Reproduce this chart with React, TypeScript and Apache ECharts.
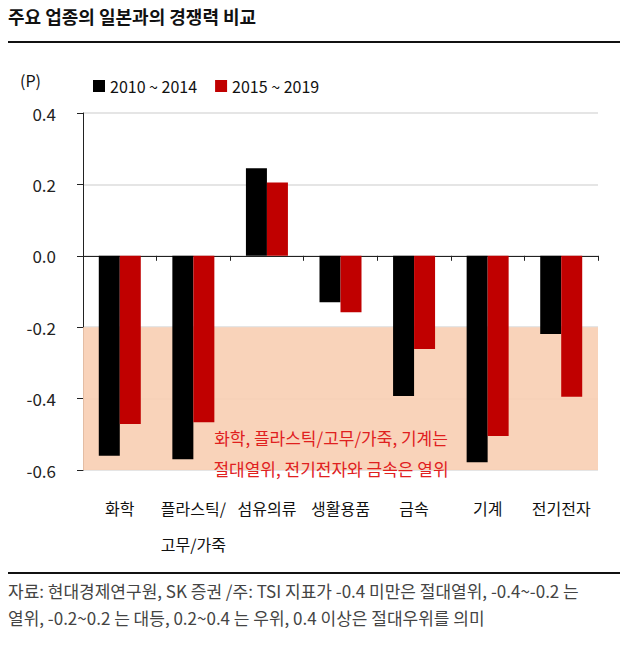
import React, { useEffect, useRef } from "react";
import * as echarts from "echarts";

const categories = ["화학", "플라스틱/\n고무/가죽", "섬유의류", "생활용품", "금속", "기계", "전기전자"];
const series2010 = [-0.56, -0.57, 0.245, -0.13, -0.393, -0.578, -0.219];
const series2015 = [-0.471, -0.466, 0.205, -0.158, -0.261, -0.505, -0.395];
const seriesNames = ["2010 ~ 2014", "2015 ~ 2019"];
const shadeRange = [-0.2, -0.6];

const FONT = "'Noto Sans CJK KR', 'Noto Sans', sans-serif";

export default function App() {
  const ref = useRef<HTMLDivElement>(null);
  useEffect(() => {
    if (!ref.current) return;
    const chart = echarts.init(ref.current, null, { renderer: "svg" });
    chart.setOption({
      animation: false,
      backgroundColor: "#ffffff",
      textStyle: { fontFamily: FONT },
      grid: { left: 83, right: 32, top: 113, bottom: 175 },
      legend: {
        left: 88,
        top: 73,
        itemWidth: 12,
        itemHeight: 12,
        itemGap: 18,
        icon: "rect",
        textStyle: { fontSize: 16, color: "#111", fontFamily: FONT },
        data: seriesNames,
      },
      xAxis: [
        {
          type: "category",
          data: categories,
          axisLine: { onZero: true, lineStyle: { color: "#222", width: 1 } },
          axisTick: { show: true, length: 5, inside: false, lineStyle: { color: "#222" } },
          axisLabel: { show: false },
        },
        {
          type: "category",
          data: categories,
          position: "bottom",
          axisLine: { show: false, onZero: false },
          axisTick: { show: false },
          axisLabel: {
            interval: 0,
            margin: 20,
            fontSize: 16,
            color: "#111",
            lineHeight: 36,
            verticalAlign: "top",
            fontFamily: FONT,
          },
        },
      ],
      yAxis: {
        type: "value",
        min: -0.6,
        max: 0.4,
        interval: 0.2,
        axisLine: { show: true, lineStyle: { color: "#222" } },
        axisTick: { show: true, length: 6, lineStyle: { color: "#222" } },
        axisLabel: {
          fontSize: 17,
          color: "#222",
          margin: 27,
          formatter: (v: number) => (Math.abs(v) < 1e-9 ? "0.0" : v.toFixed(1)),
        },
        splitLine: { show: true, lineStyle: { color: "#dcdcdc", width: 1.5 } },
      },
      series: [
        {
          name: seriesNames[0],
          type: "bar",
          data: series2010,
          barWidth: 21,
          barGap: "0%",
          itemStyle: { color: "#000000" },
          z: 3,
          markArea: {
            silent: true,
            z: 1,
            itemStyle: { color: "rgba(248, 206, 178, 0.9)" },
            data: [[{ yAxis: shadeRange[0] }, { yAxis: shadeRange[1] }]],
          },
        },
        {
          name: seriesNames[1],
          type: "bar",
          data: series2015,
          barWidth: 21,
          barGap: "0%",
          itemStyle: { color: "#c00000" },
          z: 3,
        },
      ],
      graphic: [
        {
          type: "text",
          left: 8,
          top: 7,
          style: { text: "주요 업종의 일본과의 경쟁력 비교", fontSize: 18, fontWeight: "bold", fill: "#111", fontFamily: FONT },
        },
        { type: "rect", shape: { x: 8, y: 41, width: 612, height: 2 }, style: { fill: "#111" } },
        {
          type: "text",
          left: 20,
          top: 72,
          style: { text: "(P)", fontSize: 16, fill: "#111", fontFamily: FONT },
        },
        {
          type: "text",
          x: 331,
          y: 437,
          style: {
            text: "화학, 플라스틱/고무/가죽, 기계는",
            fontSize: 17,
            fill: "#e0201e",
            align: "center",
            verticalAlign: "middle",
            fontFamily: FONT,
          },
          z: 10,
        },
        {
          type: "text",
          x: 331,
          y: 468,
          style: {
            text: "절대열위, 전기전자와 금속은 열위",
            fontSize: 17,
            fill: "#e0201e",
            align: "center",
            verticalAlign: "middle",
            fontFamily: FONT,
          },
          z: 10,
        },
        { type: "rect", shape: { x: 8, y: 572, width: 612, height: 2 }, style: { fill: "#111" } },
        {
          type: "text",
          left: 8,
          top: 582,
          style: {
            text: "자료: 현대경제연구원, SK 증권 /주: TSI 지표가 -0.4 미만은 절대열위, -0.4~-0.2 는",
            fontSize: 17,
            fill: "#444",
            fontFamily: FONT,
          },
        },
        {
          type: "text",
          left: 8,
          top: 609,
          style: {
            text: "열위, -0.2~0.2 는 대등, 0.2~0.4 는 우위, 0.4 이상은 절대우위를 의미",
            fontSize: 17,
            fill: "#444",
            fontFamily: FONT,
          },
        },
      ],
    });
    return () => chart.dispose();
  }, []);
  return (
    <div
      ref={ref}
      style={{ position: "fixed", left: 0, top: 0, width: 630, height: 645, background: "#fff" }}
    />
  );
}
